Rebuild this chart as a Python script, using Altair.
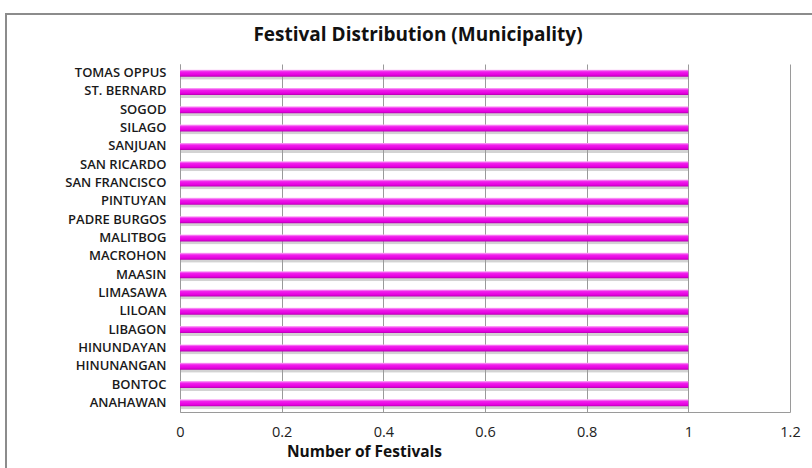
import altair as alt
import pandas as pd

# Municipalities, top row first
municipalities = [
    "TOMAS OPPUS", "ST. BERNARD", "SOGOD", "SILAGO", "SANJUAN",
    "SAN RICARDO", "SAN FRANCISCO", "PINTUYAN", "PADRE BURGOS", "MALITBOG",
    "MACROHON", "MAASIN", "LIMASAWA", "LILOAN", "LIBAGON",
    "HINUNDAYAN", "HINUNANGAN", "BONTOC", "ANAHAWAN",
]
festivals = [1, 1, 1, 1, 1, 1, 1, 1, 1, 1, 1, 1, 1, 1, 1, 1, 1, 1, 1]
x_ticks = [0, 0.2, 0.4, 0.6, 0.8, 1.0, 1.2]
chart_title = "Festival Distribution (Municipality)"

df = pd.DataFrame({"Municipality": municipalities, "Festivals": festivals})
single = pd.DataFrame({"label": [chart_title]})

x_enc = alt.X(
    "Festivals:Q",
    scale=alt.Scale(domain=[0, 1.2], nice=False),
    axis=alt.Axis(
        values=x_ticks,
        title="Number of Festivals",
        titleFont="Open Sans",
        titleFontSize=15.5,
        titleFontWeight="bold",
        titleColor="#111111",
        titleX=184,
        titleY=32,
        titleAlign="center",
        titleBaseline="top",
        labelFont="Open Sans",
        labelFontSize=14.5,
        labelColor="#222222",
        labelPadding=13,
        labelFlush=False,
        labelExpr="datum.value == 0 ? '0' : datum.value == 1 ? '1' : format(datum.value, '.1f')",
        ticks=False,
        grid=True,
        gridColor="#9a9a9a",
        gridWidth=1,
        domainColor="#9a9a9a",
    ),
)
y_enc = alt.Y(
    "Municipality:N",
    sort=municipalities,
    scale=alt.Scale(paddingInner=0.0, paddingOuter=0.0),
    axis=alt.Axis(
        title=None,
        labelFont="Open Sans",
        labelFontSize=13,
        labelFontWeight=600,
        labelColor="#1a1a1a",
        labelPadding=14,
        ticks=False,
        domainColor="#9a9a9a",
    ),
)

magenta = alt.Gradient(
    gradient="linear",
    stops=[
        alt.GradientStop(color="#fbb6f8", offset=0),
        alt.GradientStop(color="#f020ec", offset=0.3),
        alt.GradientStop(color="#e600e0", offset=0.75),
        alt.GradientStop(color="#b400b0", offset=1),
    ],
    x1=0, x2=0, y1=0, y2=1,
)

shadow = alt.Chart(df).mark_bar(
    size=7, yOffset=3, color="#9e9e9e", opacity=0.45, cornerRadius=1
).encode(x=x_enc, y=y_enc)

bars = alt.Chart(df).mark_bar(size=7, color=magenta).encode(x=x_enc, y=y_enc)

# outer chart-area frame
frame = alt.Chart(single).mark_rect(
    filled=False, stroke="#8c8c8c", strokeWidth=2
).encode(
    x=alt.value(-174), x2=alt.value(700),
    y=alt.value(-50), y2=alt.value(420),
)

# chart heading, placed inside the frame above the plot
heading = alt.Chart(single).mark_text(
    font="Open Sans", fontSize=19, fontWeight="bold", color="#111111",
    align="center", baseline="middle",
).encode(
    x=alt.value(238), y=alt.value(-29), text="label:N"
)

chart = alt.layer(frame, shadow, bars, heading).properties(
    width=610,
    height=348,
    autosize=alt.AutoSizeParams(type="none"),
    padding={"left": 180, "top": 64, "right": 22, "bottom": 56},
    background="white",
).configure_view(stroke=None)

chart.save("out.html", embed_options={"renderer": "svg", "actions": False})
